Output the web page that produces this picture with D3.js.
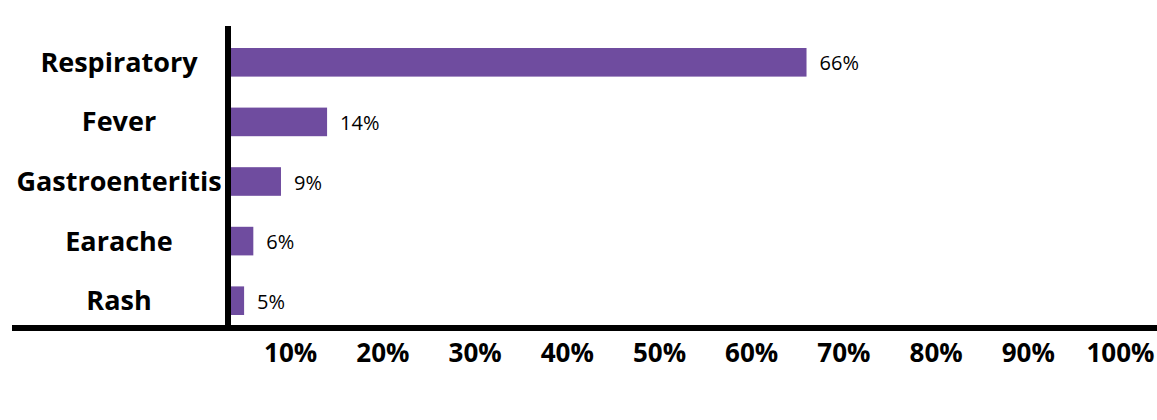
<!DOCTYPE html>
<html>
<head>
<meta charset="utf-8">
<script src="https://cdn.jsdelivr.net/npm/d3@7"></script>
<style>
  body { margin: 0; background: #fff; }
  svg text { font-family: "Open Sans", sans-serif; fill: #000; }
  .cat { font-weight: 700; font-size: 27px; }
  .val { font-size: 20px; }
  .tick-label { font-weight: 700; font-size: 26px; }
</style>
</head>
<body>
<script>
// data
const categories = ['Respiratory', 'Fever', 'Gastroenteritis', 'Earache', 'Rash'];
const percents = [66, 14, 9, 6, 5];
const tickValues = [10, 20, 30, 40, 50, 60, 70, 80, 90, 100];

const width = 1157;
const height = 420;
const axisX = 228;   // where the vertical axis line sits
const axisY = 328;   // where the horizontal axis line sits

const svg = d3.select('body').append('svg')
  .attr('width', width)
  .attr('height', height);

// the chart's 0% sits a little left of the drawn axis line
const xScale = d3.scaleLinear()
  .domain([0, 100])
  .range([198, 1120]);

const yScale = d3.scaleBand()
  .domain(categories)
  .range([48, 315])
  .paddingInner(0.52)
  .paddingOuter(0);

const rows = categories.map(function(c, i) { return { name: c, value: percents[i] }; });

// bars
svg.append('g').selectAll('rect')
  .data(rows)
  .enter().append('rect')
  .attr('x', axisX)
  .attr('y', function(d) { return yScale(d.name); })
  .attr('width', function(d) { return xScale(d.value) - axisX; })
  .attr('height', yScale.bandwidth())
  .attr('fill', '#6f4c9f');

// value labels
svg.append('g').selectAll('text')
  .data(rows)
  .enter().append('text')
  .attr('class', 'val')
  .attr('x', function(d) { return xScale(d.value) + 13; })
  .attr('y', function(d) { return yScale(d.name) + yScale.bandwidth() / 2 + 8; })
  .text(function(d) { return d.value + '%'; });

// category labels
svg.append('g').selectAll('text')
  .data(rows)
  .enter().append('text')
  .attr('class', 'cat')
  .attr('text-anchor', 'middle')
  .attr('x', 119)
  .attr('y', function(d) { return yScale(d.name) + yScale.bandwidth() / 2 + 9.5; })
  .text(function(d) { return d.name; });

// x axis: tick labels only, the line is drawn separately
const xAxis = d3.axisBottom(xScale)
  .tickValues(tickValues)
  .tickSize(0)
  .tickPadding(0)
  .tickFormat(function(d) { return d + '%'; });

const gx = svg.append('g')
  .attr('transform', 'translate(0 ' + axisY + ')')
  .call(xAxis);
gx.select('.domain').remove();
gx.selectAll('.tick text')
  .attr('class', 'tick-label')
  .attr('dy', null)
  .attr('y', 34)
  .style('font-family', '"Open Sans", sans-serif')
  .style('fill', '#000');

// axis lines
svg.append('line')
  .attr('x1', 12).attr('x2', width)
  .attr('y1', axisY).attr('y2', axisY)
  .attr('stroke', '#000')
  .attr('stroke-width', 6);

svg.append('line')
  .attr('x1', axisX).attr('x2', axisX)
  .attr('y1', 26).attr('y2', axisY)
  .attr('stroke', '#000')
  .attr('stroke-width', 6);
</script>
</body>
</html>
